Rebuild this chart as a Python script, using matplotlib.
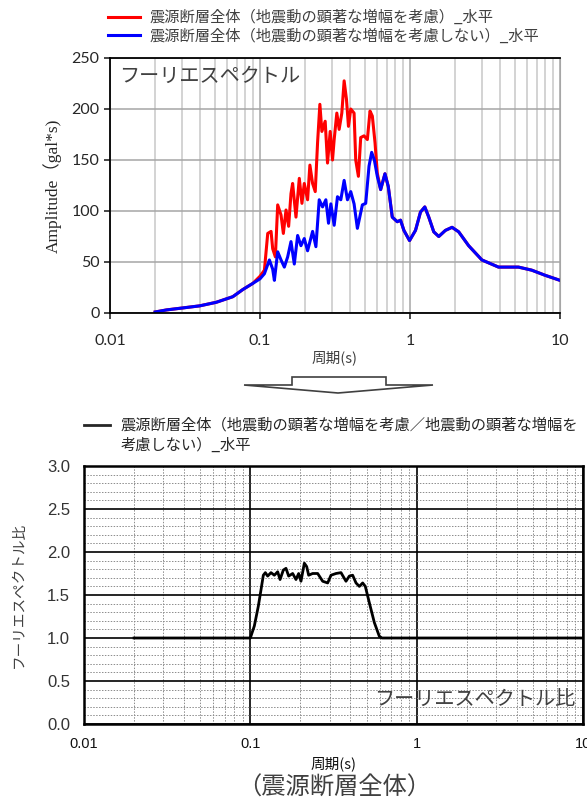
import numpy as np
import matplotlib
matplotlib.use('Agg')
import matplotlib.pyplot as plt
from matplotlib.lines import Line2D
from matplotlib.patches import Polygon
from matplotlib.ticker import LogLocator, FixedLocator, NullFormatter, FixedFormatter

plt.rcParams['font.family'] = ['Noto Sans CJK JP', 'DejaVu Sans']

# spectre de fourier (sans amplification)
periode_bleu = [0.020, 0.0238, 0.0307, 0.0396, 0.0511, 0.0659, 0.0768, 0.0895, 0.100, 0.107,
                0.1155, 0.1215, 0.1247, 0.1312, 0.1381, 0.1453, 0.1529, 0.1609, 0.1693, 0.1782,
                0.1875, 0.1973, 0.2076, 0.2242, 0.2359, 0.2482, 0.2612, 0.2748, 0.2863, 0.2967,
                0.3122, 0.3285, 0.3457, 0.3638, 0.3829, 0.4027, 0.4238, 0.4459, 0.4814, 0.5066,
                0.5331, 0.5553, 0.5786, 0.6054, 0.6372, 0.6808, 0.7165, 0.7617, 0.8222, 0.8651,
                0.9105, 0.993, 1.088, 1.175, 1.255, 1.334, 1.440, 1.555, 1.722, 1.907,
                2.111, 2.460, 3.016, 3.892, 5.287, 6.479, 7.948, 10.0]
ampl_bleu = [1, 3, 5, 7, 10.5, 16, 23, 29, 33.5, 38.5,
             52, 43, 32, 60, 52, 45, 55, 70, 48, 76,
             66, 73, 61, 80, 65, 111, 104, 111, 88, 107,
             86, 114, 111, 130, 111, 119, 107, 83, 106, 107.5,
             144, 157.5, 150, 134, 121, 136.5, 124, 94, 89.5, 91,
             81, 71, 81, 99, 104, 94, 79.6, 75, 81, 84,
             79.6, 66, 52, 45, 45, 42, 37, 32]

# spectre avec amplification (partie ou il se separe du bleu)
periode_rouge = [0.100, 0.107, 0.1126, 0.1185, 0.1215, 0.1266, 0.1312, 0.1381, 0.1431, 0.1491,
                 0.1552, 0.1609, 0.1650, 0.1737, 0.1828, 0.1904, 0.1973, 0.2076, 0.2151, 0.2242,
                 0.2335, 0.2420, 0.2507, 0.2585, 0.2720, 0.2819, 0.2937, 0.3044, 0.3122, 0.3252,
                 0.3370, 0.3511, 0.3638, 0.3771, 0.3888, 0.4027, 0.4238, 0.4347, 0.4529, 0.4693,
                 0.4938, 0.5196, 0.5413, 0.5610, 0.5845, 0.6054]
ampl_rouge = [36, 42, 78, 80, 63, 55, 106, 96, 78, 101,
              85, 117, 127, 94, 132, 107.5, 127, 111, 145, 127,
              119, 167, 204.6, 178, 188, 147, 178, 150, 170, 196,
              180, 196, 227.6, 209.5, 183, 200, 196, 150, 134, 172,
              173.7, 170, 198, 193, 167, 137]

# rapport des spectres
periode_ratio = [0.020, 0.100, 0.1057, 0.1117, 0.1159, 0.1197, 0.1231, 0.1271, 0.1331, 0.1394,
                 0.1460, 0.1509, 0.1579, 0.1638, 0.1700, 0.1797, 0.1881, 0.1952, 0.2016, 0.2112,
                 0.2182, 0.2242, 0.2369, 0.2540, 0.2722, 0.2917, 0.3055, 0.3273, 0.3508, 0.3759,
                 0.3937, 0.4123, 0.4318, 0.4522, 0.4735, 0.4913, 0.5193, 0.5565, 0.5963, 0.6185, 10.0]
ratio = [1.0, 1.0, 1.14, 1.37, 1.56, 1.73, 1.76, 1.72, 1.76, 1.73,
         1.77, 1.68, 1.79, 1.81, 1.72, 1.75, 1.68, 1.75, 1.66, 1.87,
         1.83, 1.73, 1.75, 1.75, 1.66, 1.64, 1.73, 1.75, 1.76, 1.66,
         1.72, 1.73, 1.64, 1.60, 1.64, 1.60, 1.41, 1.18, 1.02, 1.0, 1.0]

lab_rouge = '震源断層全体（地震動の顕著な増幅を考慮）_水平'
lab_bleu = '震源断層全体（地震動の顕著な増幅を考慮しない）_水平'
lab_ratio = '震源断層全体（地震動の顕著な増幅を考慮／地震動の顕著な増幅を\n考慮しない）_水平'
xticks = [0.01, 0.1, 1, 10]
xlabels = ['0.01', '0.1', '1', '10']

W, H = 587, 806
fig = plt.figure(figsize=(W / 100, H / 100), dpi=100)

def fx(px):
    return px / W

def fy(py):
    return 1 - py / H

# ---- graphe du haut
ax1 = fig.add_axes([fx(110), fy(313), fx(450), 255 / H])
pb = np.array(periode_bleu)
ab = np.array(ampl_bleu)
bas = pb < 0.1
haut = pb > 0.6054
rx = np.concatenate([pb[bas], periode_rouge, pb[haut]])
ry = np.concatenate([ab[bas], ampl_rouge, ab[haut]])
ax1.plot(rx, ry, color='#ff0000', lw=2.2, label=lab_rouge)
ax1.plot(pb, ab, color='#0000ff', lw=2.2, label=lab_bleu)
ax1.set_xscale('log')
ax1.set_xlim(0.01, 10)
ax1.set_ylim(0, 250)
ax1.set_yticks([0, 50, 100, 150, 200, 250])
ax1.xaxis.set_major_locator(FixedLocator(xticks))
ax1.xaxis.set_major_formatter(FixedFormatter(xlabels))
ax1.xaxis.set_minor_locator(LogLocator(base=10, subs=np.arange(2, 10)))
ax1.xaxis.set_minor_formatter(NullFormatter())
ax1.grid(which='major', color='#a6a6a6', lw=1.1)
ax1.grid(which='minor', axis='x', color='#c8c8c8', lw=1.1)
ax1.tick_params(which='minor', length=0)
ax1.tick_params(which='major', direction='out', length=4, width=1.2, colors='#262626')
for lbl in ax1.get_xticklabels() + ax1.get_yticklabels():
    lbl.set_family(['Lato', 'DejaVu Sans'])
    lbl.set_fontsize(11.5)
ax1.tick_params(axis='x', pad=11)
for s in ['left', 'bottom', 'top']:
    ax1.spines[s].set_color('#000000')
    ax1.spines[s].set_linewidth(1.3)
ax1.spines['right'].set_color('#a6a6a6')
ax1.set_xlabel('周期(s)', fontsize=10.5, color='#404040', labelpad=2)
ax1.set_ylabel('Amplitude（gal*s)', fontsize=12.5, color='#262626',
               family=['Liberation Serif', 'Noto Sans CJK JP'], labelpad=7)
ax1.text(0.02, 0.97, 'フーリエスペクトル', transform=ax1.transAxes, fontsize=14.5,
         color='#404040', va='top', ha='left')
fig.legend(loc='upper left', bbox_to_anchor=(fx(108), fy(9)), frameon=False,
           borderpad=0, borderaxespad=0, handlelength=2.1, handletextpad=0.6,
           labelspacing=0.1, fontsize=11, labelcolor='#404040')

# ---- fleche entre les deux graphes
pts = [(244, 385), (292, 385), (292, 377), (386, 377), (386, 385), (433, 385), (338, 393)]
fleche = Polygon([(fx(a), fy(b)) for a, b in pts], closed=True, transform=fig.transFigure,
                 facecolor='white', edgecolor='#404040', lw=1.2)
fig.add_artist(fleche)

# ---- graphe du bas
ax2 = fig.add_axes([fx(84), fy(724), fx(499), 258 / H])
ax2.plot(periode_ratio, ratio, color='black', lw=2)
ax2.set_xscale('log')
ax2.set_xlim(0.01, 10)
ax2.set_ylim(0, 3.0)
ax2.set_yticks(np.arange(0, 3.01, 0.5))
ax2.set_yticks(np.arange(0, 3.01, 0.1), minor=True)
ax2.set_yticklabels(['%.1f' % v for v in np.arange(0, 3.01, 0.5)])
ax2.xaxis.set_major_locator(FixedLocator(xticks))
ax2.xaxis.set_major_formatter(FixedFormatter(xlabels))
ax2.xaxis.set_minor_locator(LogLocator(base=10, subs=np.arange(2, 10)))
ax2.xaxis.set_minor_formatter(NullFormatter())
ax2.grid(which='major', color='black', lw=1.2)
ax2.grid(which='minor', color='#8c8c8c', lw=0.7, ls=(0, (1.5, 1.5)))
ax2.tick_params(which='both', length=0)
ax2.tick_params(axis='y', pad=10, colors='#333333')
ax2.tick_params(axis='x', pad=9, colors='#111111')
for lbl in ax2.get_yticklabels():
    lbl.set_family(['Liberation Sans'])
    lbl.set_fontsize(12)
for lbl in ax2.get_xticklabels():
    lbl.set_family(['Liberation Sans'])
    lbl.set_fontsize(10.5)
for s in ax2.spines.values():
    s.set_linewidth(1.8)
    s.set_color('black')
ax2.set_xlabel('周期(s)', fontsize=10.5, color='#111111', labelpad=4)
ax2.set_ylabel('フーリエスペクトル比', fontsize=10.5, color='#404040', labelpad=15)
ax2.text(0.985, 0.093, 'フーリエスペクトル比', transform=ax2.transAxes, fontsize=14.5,
         color='#404040', va='center', ha='right')

# legende du bas faite a la main (label sur deux lignes)
fig.add_artist(Line2D([fx(84), fx(110)], [fy(425), fy(425)], transform=fig.transFigure,
                      color='#262626', lw=2))
lignes = lab_ratio.split('\n')
fig.text(fx(121), fy(425), lignes[0], fontsize=11, color='#262626', va='center', ha='left')
fig.text(fx(121), fy(445), lignes[1], fontsize=11, color='#262626', va='center', ha='left')

fig.text(fx(334), fy(788), '（震源断層全体）', fontsize=17.5, color='#404040',
         ha='center', va='center')

plt.savefig('out.png', dpi=100)
